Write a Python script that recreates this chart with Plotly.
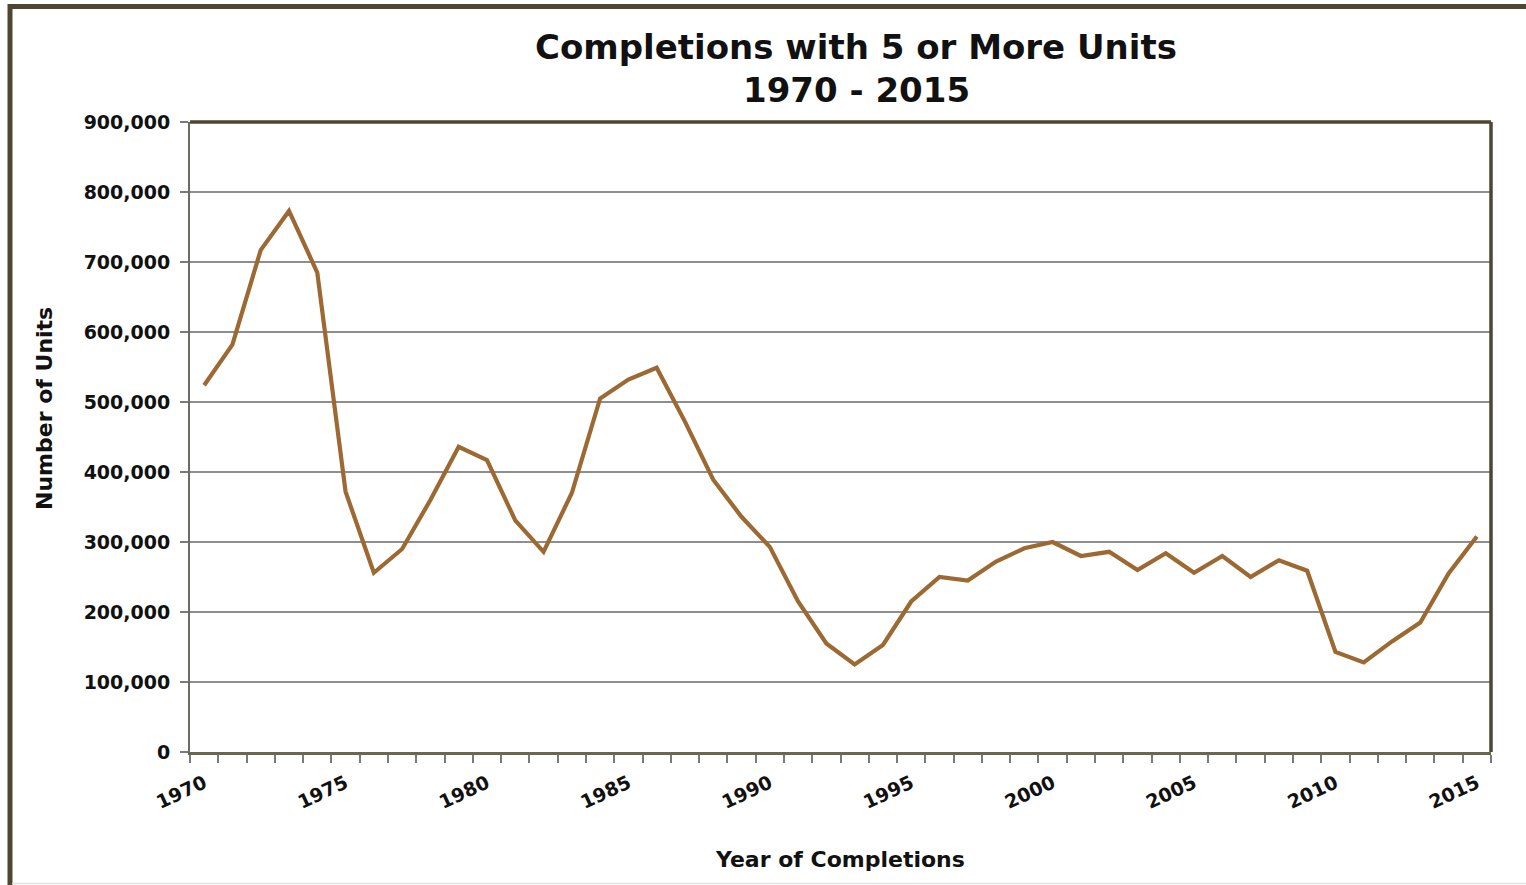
import plotly.graph_objects as go

years = [1970, 1971, 1972, 1973, 1974, 1975, 1976, 1977, 1978, 1979,
         1980, 1981, 1982, 1983, 1984, 1985, 1986, 1987, 1988, 1989,
         1990, 1991, 1992, 1993, 1994, 1995, 1996, 1997, 1998, 1999,
         2000, 2001, 2002, 2003, 2004, 2005, 2006, 2007, 2008, 2009,
         2010, 2011, 2012, 2013, 2014, 2015]
units = [524000, 582000, 717000, 773000, 685000, 372000, 256000, 290000, 360000, 436000,
         417000, 331000, 286000, 370000, 505000, 532000, 549000, 472000, 389000, 336000,
         293000, 215000, 155000, 125000, 153000, 215000, 250000, 245000, 272000, 291000,
         300000, 280000, 286000, 260000, 284000, 256000, 280000, 250000, 274000, 259000,
         143000, 128000, 158000, 185000, 255000, 308000]

x_tick_years = [1970, 1975, 1980, 1985, 1990, 1995, 2000, 2005, 2010, 2015]
x_tick_text = ["1970", "1975", "1980", "1985", "1990", "1995", "2000", "2005", "2010", "2015"]
y_tick_vals = [0, 100000, 200000, 300000, 400000, 500000, 600000, 700000, 800000, 900000]
y_tick_text = ["0", "100,000", "200,000", "300,000", "400,000", "500,000",
               "600,000", "700,000", "800,000", "900,000"]
boundaries = [y - 0.5 for y in years] + [years[-1] + 0.5]

title_line1 = "Completions with 5 or More Units"
title_line2 = "1970 - 2015"
x_title = "Year of Completions"
y_title = "Number of Units"

FONT = "DejaVu Sans"
OLIVE = "#4d4630"
LINE = "#9c6932"

fig = go.Figure()
fig.add_trace(go.Scatter(x=years, y=units, mode="lines",
                         line=dict(color=LINE, width=4.2), hoverinfo="x+y"))

W, H = 1526, 885
L, R, T, B = 190, 1491, 122, 752


def px(xp):
    return (xp - L) / (R - L)


def py(yp):
    return (B - yp) / (B - T)


fig.update_layout(
    width=W, height=H,
    margin=dict(l=L, r=W - R, t=T, b=H - B),
    paper_bgcolor="white", plot_bgcolor="white",
    showlegend=False,
    font=dict(family=FONT, color="#111111"),
)

fig.update_xaxes(
    range=[boundaries[0], boundaries[-1]],
    tickmode="array", tickvals=x_tick_years, ticktext=x_tick_text,
    ticks="", tickangle=-25,
    tickfont=dict(family=FONT, size=19, weight="bold", color="#111111"),
    ticklabelstandoff=10,
    showgrid=False, zeroline=False,
    showline=True, linecolor="#6b6650", linewidth=3,
    minor=dict(tickmode="array", tickvals=boundaries, ticks="outside",
               ticklen=8, tickwidth=1.5, tickcolor="#7a7a7a", showgrid=False),
)

fig.update_yaxes(
    range=[0, 900000],
    tickmode="array", tickvals=y_tick_vals, ticktext=y_tick_text,
    ticks="outside", ticklen=8, tickwidth=1.5, tickcolor="#7a7a7a",
    tickfont=dict(family=FONT, size=19, weight="bold", color="#111111"),
    ticklabelstandoff=6,
    showgrid=True, gridcolor="#8e8e8e", gridwidth=1.5,
    zeroline=False,
    showline=True, linecolor="#6e6c60", linewidth=2,
)

shapes = [
    # plot area top and right borders
    dict(type="line", xref="paper", yref="paper", x0=0, x1=1, y0=1, y1=1,
         line=dict(color=OLIVE, width=3.5)),
    dict(type="line", xref="paper", yref="paper", x0=1, x1=1, y0=0, y1=1,
         line=dict(color=OLIVE, width=3.5)),
    # outer frame
    dict(type="line", xref="paper", yref="paper", x0=px(8), x1=px(1530),
         y0=py(6.5), y1=py(6.5), line=dict(color=OLIVE, width=5)),
    dict(type="line", xref="paper", yref="paper", x0=px(10), x1=px(10),
         y0=py(4), y1=py(890), line=dict(color=OLIVE, width=5)),
    dict(type="line", xref="paper", yref="paper", x0=px(12), x1=px(1530),
         y0=py(883.5), y1=py(883.5), line=dict(color="#e2e2e2", width=1.5)),
]
fig.update_layout(shapes=shapes)

annotations = [
    dict(text=title_line1, xref="paper", yref="paper", x=px(856), y=py(47),
         xanchor="center", yanchor="middle", showarrow=False,
         font=dict(family=FONT, size=34, weight="bold", color="#111111")),
    dict(text=title_line2, xref="paper", yref="paper", x=px(856), y=py(90),
         xanchor="center", yanchor="middle", showarrow=False,
         font=dict(family=FONT, size=34, weight="bold", color="#111111")),
    dict(text=x_title, xref="paper", yref="paper", x=px(840), y=py(859),
         xanchor="center", yanchor="middle", showarrow=False,
         font=dict(family=FONT, size=22, weight="bold", color="#111111")),
    dict(text=y_title, xref="paper", yref="paper", x=px(44), y=py(409),
         xanchor="center", yanchor="middle", showarrow=False, textangle=-90,
         font=dict(family=FONT, size=22, weight="bold", color="#111111")),
]
fig.update_layout(annotations=annotations)

fig.write_html("out.html",
               config={"displayModeBar": False},
               post_script="document.body.style.margin='0px';document.body.style.overflow='hidden';")
